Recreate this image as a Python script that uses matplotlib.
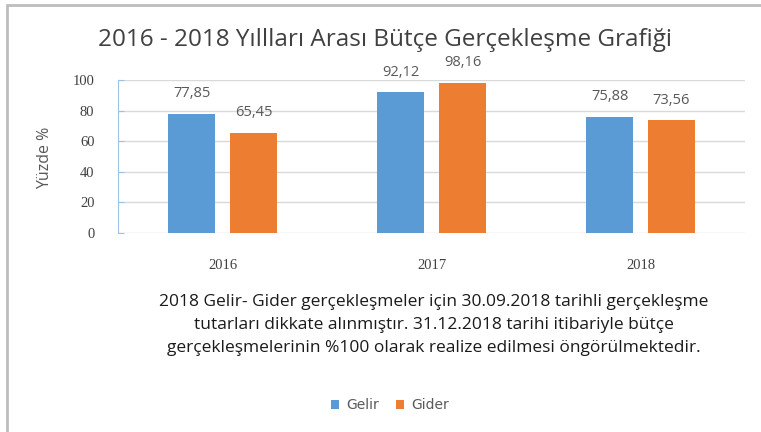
import matplotlib.pyplot as plt
from matplotlib.patches import Rectangle
import numpy as np

# data
years = ["2016", "2017", "2018"]
gelir = [77.85, 92.12, 75.88]
gider = [65.45, 98.16, 73.56]
y_ticks = [0, 20, 40, 60, 80, 100]

title = "2016 - 2018 Yıllları Arası Bütçe Gerçekleşme Grafiği"
note = ("2018 Gelir- Gider gerçekleşmeler için 30.09.2018 tarihli gerçekleşme\n"
        "tutarları dikkate alınmıştır. 31.12.2018 tarihi itibariyle bütçe\n"
        "gerçekleşmelerinin %100 olarak realize edilmesi öngörülmektedir.")

blue = "#5B9BD5"
orange = "#ED7D31"

fig = plt.figure(figsize=(7.61, 4.32), dpi=100)
fig.patches.append(Rectangle((7 / 761, -0.1), 1.2, (1 - 4.5 / 432) + 0.1,
                             transform=fig.transFigure, fill=False,
                             edgecolor="#bdbdbd", linewidth=2))

ax = fig.add_axes([118 / 761, 1 - 233 / 432, (745 - 118) / 761, (233 - 80) / 432])

x = np.arange(len(years))
w = 0.225
off = 0.148
b1 = ax.bar(x - off, gelir, w, color=blue, label="Gelir", zorder=3)
b2 = ax.bar(x + off, gider, w, color=orange, label="Gider", zorder=3)

# value labels above each bar
for bars, vals in ((b1, gelir), (b2, gider)):
    for b, v in zip(bars, vals):
        ax.annotate(f"{v:.2f}".replace(".", ","), (b.get_x() + b.get_width() / 2, v),
                    xytext=(0, 20), textcoords="offset pixels",
                    ha="center", va="center", fontsize=10.5, family="Open Sans",
                    color="#595959", annotation_clip=False)

ax.set_xlim(-0.5, 2.5)
ax.set_ylim(0, 100)
ax.set_yticks(y_ticks)
ax.set_xticks(x)
ax.set_xticklabels(years, family="Liberation Serif", fontsize=10.5, color="#404040")
ax.tick_params(axis="x", length=0, pad=19)
ax.tick_params(axis="y", length=4, direction="in", color="#9dc3e6",
               labelsize=10.5, labelcolor="#404040", pad=17)
for lab in ax.get_yticklabels():
    lab.set_family("Liberation Serif")
ax.grid(axis="y", color="#d9d9d9", linewidth=1, zorder=0)
for s in ("top", "right", "bottom"):
    ax.spines[s].set_visible(False)
ax.spines["left"].set_color("#9dc3e6")

fig.text(45 / 761, 1 - 158 / 432, "Yüzde %", rotation=90, ha="center", va="center",
         fontsize=11.5, color="#595959", family="Open Sans")

fig.text(385 / 761, 1 - 40 / 432, title, ha="center", va="center",
         fontsize=17.5, color="#404040", family="Open Sans")

fig.text(434 / 761, 1 - 325 / 432, note, ha="center", va="center",
         fontsize=12.5, color="#1a1a1a", family="Open Sans", linespacing=1.6)

fig.legend(handles=[b1, b2], loc="center", bbox_to_anchor=(390 / 761, 1 - 405 / 432),
           ncol=2, frameon=False, fontsize=10, handlelength=0.6, handleheight=0.6,
           columnspacing=1.2, handletextpad=0.5, labelcolor="#595959")

fig.savefig("out.png", dpi=100)
